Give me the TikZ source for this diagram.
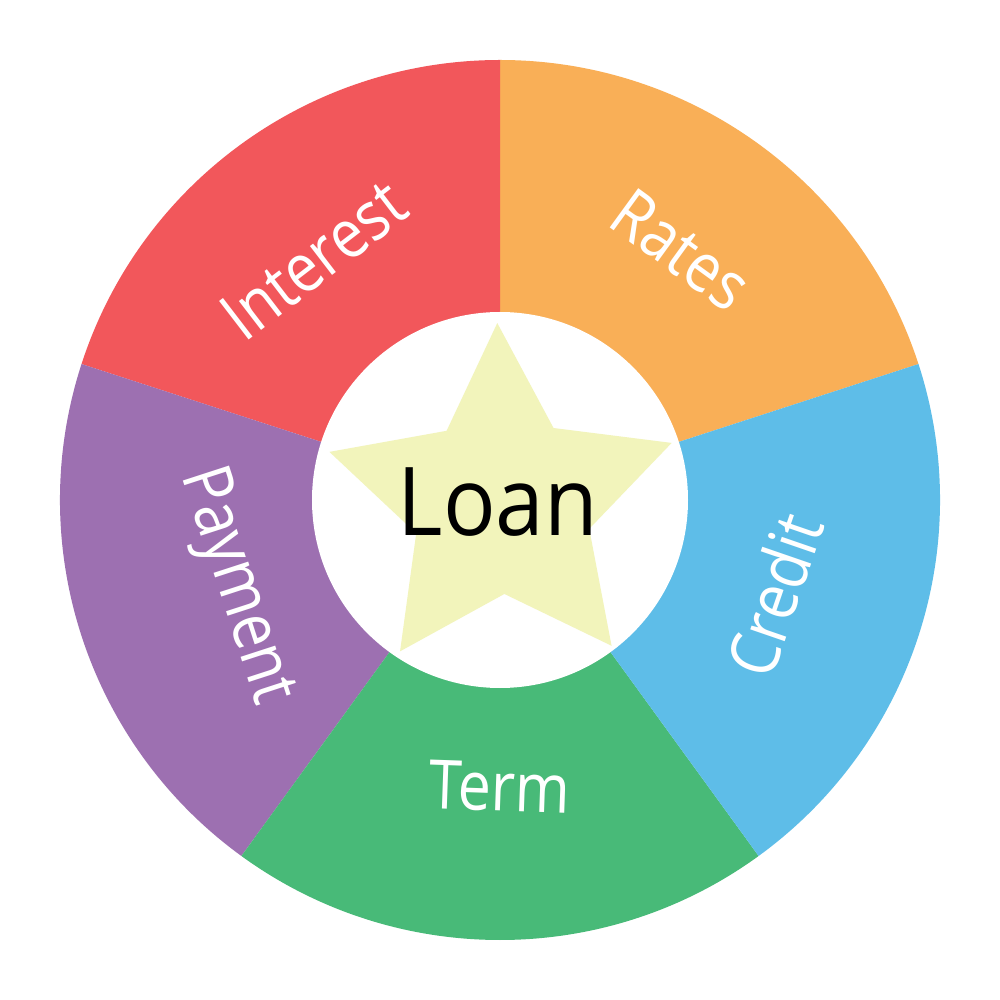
\documentclass[tikz,border=0pt]{standalone}
\usepackage{fontspec}
\setmainfont{Open Sans}
\newfontfamily\labelfont{Open Sans}[FakeStretch=0.87]
\newfontfamily\loanfont{Open Sans}[FakeStretch=0.92]
\definecolor{cred}{HTML}{F2575B}
\definecolor{corange}{HTML}{F9AF57}
\definecolor{cblue}{HTML}{5EBDE8}
\definecolor{cgreen}{HTML}{48BA78}
\definecolor{cpurple}{HTML}{9D70B1}
\definecolor{cstar}{HTML}{F2F4BB}
\tikzset{
  seglabel/.style={text=white, inner sep=0pt, font=\labelfont\fontsize{68}{70}\selectfont},
  centerlabel/.style={text=black, inner sep=0pt, font=\loanfont\fontsize{95}{100}\selectfont},
}
\begin{document}
\begin{tikzpicture}[x=1pt,y=1pt]
\useasboundingbox (-500,-500) rectangle (500,500);
\fill[white] (-500,-500) rectangle (500,500);
% sectors
\fill[corange] (0,0) -- (18:440) arc[start angle=18, end angle=90, radius=440] -- cycle;
\fill[cred] (0,0) -- (90:440) arc[start angle=90, end angle=162, radius=440] -- cycle;
\fill[cpurple] (0,0) -- (162:440) arc[start angle=162, end angle=234, radius=440] -- cycle;
\fill[cgreen] (0,0) -- (234:440) arc[start angle=234, end angle=306, radius=440] -- cycle;
\fill[cblue] (0,0) -- (306:440) arc[start angle=306, end angle=378, radius=440] -- cycle;
% inner white disc
\fill[white] (0,0) circle[radius=188];
% star
\fill[cstar] ([shift={(2,-3)}]91.5:180)
  \foreach \a/\r in {127.5/91, 163.5/180, 199.5/91, 235.5/180, 271.5/91, 307.5/180, 343.5/91, 379.5/180, 415.5/91}{
    -- ([shift={(2,-3)}]\a:\r)
  } -- cycle;
% labels
\node[centerlabel] (loan) at (-2,-2) {Loan};
\node[seglabel, rotate=37.5] (interest) at (127.8:304) {Interest};
\node[seglabel, rotate=-36] (rates) at (54.1:309) {Rates};
\node[seglabel, rotate=71] (credit) at (-19.1:290) {Credit};
\node[seglabel, rotate=-2] (term) at (-90:287) {Term};
\node[seglabel, rotate=-72] (payment) at (198:279) {Payment};
\end{tikzpicture}
\end{document}
